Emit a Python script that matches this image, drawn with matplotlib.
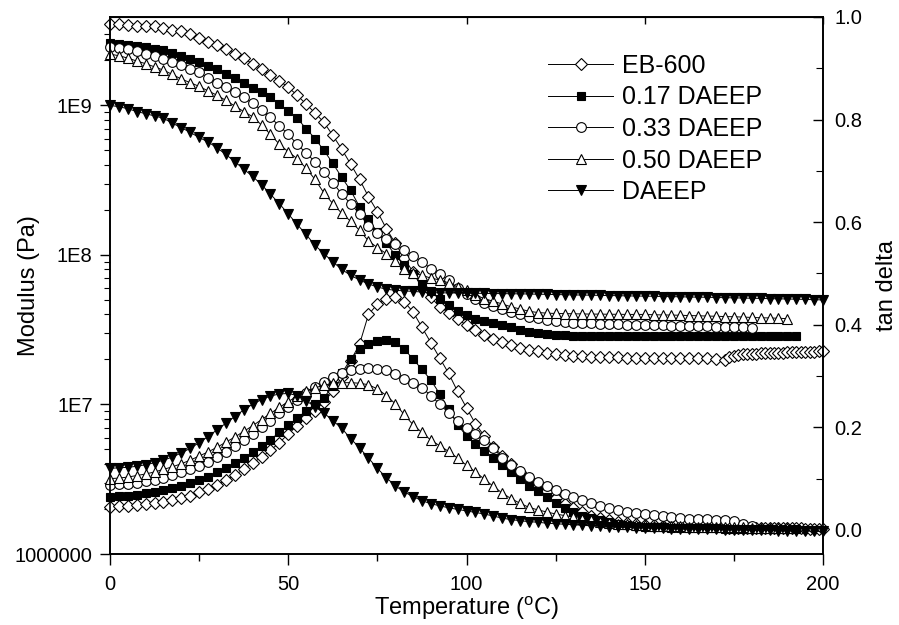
import numpy as np
import matplotlib.pyplot as plt
from matplotlib.ticker import MultipleLocator, FixedLocator, FixedFormatter, LogLocator, NullFormatter

plt.rcParams['font.family'] = 'Liberation Sans'
plt.rcParams['mathtext.fontset'] = 'custom'
plt.rcParams['mathtext.rm'] = 'Liberation Sans'

# temperature sweeps (degC)
t_eb600 = np.concatenate([np.arange(0, 170.1, 2.5), np.arange(172.5, 200.1, 1.25)])
t_017 = np.arange(0, 192.6, 2.5)
t_033 = np.arange(0, 180.1, 2.5)
t_050 = np.arange(0, 190.1, 2.5)
t_daeep = np.arange(0, 200.1, 2.5)

# storage modulus, MPa
mod_eb600 = [3500, 3480, 3450, 3420, 3400, 3370, 3300, 3200, 3120, 2980, 2830, 2650, 2530, 2380,
             2220, 2060, 1900, 1750, 1600, 1460, 1320, 1170, 1020, 890, 770, 630, 510, 405, 320,
             245, 195, 150, 120, 95, 77, 60, 52, 45, 41, 37, 34, 31.5, 29.3, 27.5, 26, 25, 24,
             23.3, 22.7, 22.2, 21.8, 21.4, 21.2, 21.0, 20.9, 20.8, 20.7, 20.7, 20.6, 20.6, 20.6,
             20.6, 20.5, 20.5, 20.5, 20.5, 20.5, 20.4, 20.2,
             19.7, 20.8, 21.2, 21.4, 21.6, 21.7, 21.8, 21.9, 22.0, 22.0, 22.1, 22.1, 22.2, 22.2,
             22.3, 22.3, 22.4, 22.4, 22.5, 22.5, 22.6, 22.7, 22.8]
mod_017 = [2600, 2580, 2550, 2500, 2450, 2400, 2330, 2250, 2140, 2040, 1950, 1840, 1740, 1630,
           1530, 1420, 1310, 1220, 1140, 1020, 920, 820, 700, 600, 500, 410, 330, 270, 210, 173,
           142, 120, 100, 85, 74, 65, 57, 51, 46, 42, 39.5, 37.5, 36.2, 35, 34, 32.8, 31.5, 30.7,
           30, 29.6, 29.3, 29, 28.8, 28.8, 28.8, 28.8, 28.8, 28.8, 28.7, 28.7, 28.7, 28.7, 28.7,
           28.6, 28.6, 28.6, 28.6, 28.6, 28.5, 28.5, 28.5, 28.5, 28.5, 28.5, 28.5, 28.5, 28.5, 28.5]
mod_033 = [2450, 2420, 2370, 2300, 2220, 2130, 2050, 1960, 1860, 1760, 1660, 1530, 1420, 1320,
           1230, 1130, 1030, 930, 830, 730, 640, 550, 480, 420, 360, 305, 255, 220, 188, 156,
           140, 127, 118, 108, 99, 90, 81, 74, 68, 60, 55, 51, 48, 45.5, 43.5, 41.5, 40, 38.5,
           37.6, 36.8, 36, 35.5, 35.2, 35, 34.8, 34.7, 34.6, 34.4, 34.2, 34.1, 34, 33.9, 33.8,
           33.7, 33.6, 33.5, 33.4, 33.3, 33.2, 33.1, 33, 32.8, 32.6]
mod_050 = [2200, 2150, 2070, 1980, 1900, 1810, 1720, 1610, 1500, 1420, 1340, 1250, 1170, 1080,
           990, 910, 840, 740, 640, 550, 490, 440, 380, 320, 260, 220, 190, 168, 146, 124, 112,
           102, 91, 81, 76, 73, 70, 68, 65, 61, 58, 54, 51, 49, 47, 45, 43.5, 42, 41.2, 40.8,
           40.6, 40.5, 40.4, 40.3, 40.2, 40.2, 40.1, 40.1, 40, 40, 40, 39.8, 39.7, 39.6, 39.5,
           39.3, 39.2, 39, 38.9, 38.7, 38.6, 38.4, 38.2, 38, 37.9, 37.7, 37.5]
mod_daeep = [1000, 980, 950, 910, 880, 850, 820, 760, 710, 660, 610, 570, 520, 470, 420, 375,
             335, 295, 255, 220, 188, 160, 137, 116, 102, 90, 80, 73, 68, 64, 61, 59, 58, 57.5,
             57, 56.5, 56, 55.8, 55.7, 55.6, 55.5, 55.4, 55.3, 55.2, 55.1, 55, 54.9, 54.8, 54.6,
             54.5, 54.3, 54.2, 54, 53.9, 53.8, 53.6, 53.5, 53.4, 53.2, 53.1, 53, 52.9, 52.7, 52.6,
             52.5, 52.3, 52.2, 52.1, 51.9, 51.8, 51.6, 51.5, 51.3, 51.2, 51, 50.9, 50.7, 50.6,
             50.4, 50.2, 50]

# tan delta
tan_eb600 = [.045, .046, .047, .048, .050, .052, .055, .058, .062, .067, .073, .080, .088, .097,
             .107, .118, .130, .142, .155, .170, .187, .203, .219, .232, .250, .270, .298, .330,
             .362, .420, .440, .450, .455, .445, .425, .395, .365, .335, .305, .270, .238, .207,
             .183, .162, .145, .128, .113, .099, .087, .075, .062, .050, .042, .035, .028, .023,
             .019, .016, .013, .011, .010, .009, .008, .007, .007, .006, .006, .005, .005,
             .004, .004, .004, .004, .004, .004, .003, .003, .003, .003, .003, .003, .003, .003,
             .003, .003, .003, .003, .002, .002, .002, .002, .002]
tan_017 = [.065, .066, .067, .069, .071, .074, .077, .081, .086, .091, .097, .104, .112, .120,
           .130, .140, .151, .163, .176, .190, .204, .218, .232, .245, .258, .280, .305, .333,
           .352, .363, .369, .371, .366, .353, .333, .313, .292, .265, .235, .205, .183, .167,
           .154, .140, .127, .112, .099, .086, .075, .064, .053, .042, .034, .028, .024, .020,
           .016, .012, .009, .007, .006, .005, .005, .004, .004, .004, .003, .003, .003, .002,
           .002, .002, .002, .001, .001, .001, .001, .001]
tan_033 = [.088, .089, .090, .092, .095, .098, .102, .107, .112, .118, .125, .133, .142, .152,
           .163, .175, .187, .200, .213, .227, .240, .254, .267, .278, .289, .298, .306, .311,
           .314, .315, .314, .311, .304, .295, .287, .277, .262, .245, .228, .212, .198, .186,
           .176, .160, .140, .127, .115, .104, .094, .085, .077, .070, .065, .059, .053, .047,
           .042, .038, .035, .033, .031, .029, .027, .025, .023, .022, .021, .021, .020, .020,
           .017, .012, .008]
tan_050 = [.100, .101, .103, .106, .109, .113, .118, .123, .129, .136, .144, .152, .161, .171,
           .181, .192, .203, .215, .227, .239, .250, .261, .270, .277, .282, .286, .287, .287,
           .286, .283, .275, .262, .246, .225, .205, .190, .175, .164, .153, .140, .126, .113,
           .099, .085, .072, .061, .052, .044, .039, .035, .031, .028, .025, .022, .019, .016,
           .014, .012, .011, .010, .009, .008, .008, .007, .007, .006, .006, .006, .005, .005,
           .005, .005, .004, .004, .004, .004, .004]
tan_daeep = [.120, .121, .122, .124, .127, .131, .136, .142, .150, .159, .170, .182, .195, .208,
             .221, .234, .245, .254, .261, .265, .266, .262, .252, .240, .228, .213, .198, .178,
             .160, .140, .120, .102, .086, .074, .065, .057, .051, .047, .043, .040, .037, .034,
             .031, .027, .023, .020, .018, .016, .015, .013, .012, .011, .010, .009, .008, .007,
             .006, .005, .005, .004, .004, .003, .003, .002, .002, .002, .001, .001, .001, .000,
             .000, .000, -.001, -.001, -.001, -.002, -.002, -.002, -.002, -.003, -.003]

labels = ['EB-600', '0.17 DAEEP', '0.33 DAEEP', '0.50 DAEEP', 'DAEEP']
temps = [t_eb600, t_017, t_033, t_050, t_daeep]
moduli = [mod_eb600, mod_017, mod_033, mod_050, mod_daeep]
tans = [tan_eb600, tan_017, tan_033, tan_050, tan_daeep]
styles = [dict(marker='D', ms=6.0, mfc='white'),
          dict(marker='s', ms=5.5, mfc='black'),
          dict(marker='o', ms=7.0, mfc='white'),
          dict(marker='^', ms=7.5, mfc='white'),
          dict(marker='v', ms=7.5, mfc='black')]

fig = plt.figure(figsize=(8.99, 6.25), dpi=100)
ax = fig.add_axes([110 / 899, 1 - 554 / 625, 713 / 899, 537 / 625])
ax2 = ax.twinx()

handles = []
for t, m, td, lab, st in zip(temps, moduli, tans, labels, styles):
    h, = ax.plot(t, np.array(m) * 1e6, color='black', lw=0.7, mec='black', mew=0.8,
                 clip_on=False, label=lab, **st)
    ax2.plot(t, td, color='black', lw=0.7, mec='black', mew=0.8, clip_on=False, **st)
    handles.append(h)

ax.set_xlim(0, 200)
ax.set_yscale('log')
ax.set_ylim(1e6, 3.9e9)
ax2.set_ylim(-0.047, 1.0)

ax.xaxis.set_major_locator(MultipleLocator(50))
ax.xaxis.set_minor_locator(MultipleLocator(25))
ax.yaxis.set_major_locator(FixedLocator([1e6, 1e7, 1e8, 1e9]))
ax.yaxis.set_major_formatter(FixedFormatter(['1000000', '1E7', '1E8', '1E9']))
ax.yaxis.set_minor_locator(LogLocator(base=10, subs=np.arange(2, 10)))
ax.yaxis.set_minor_formatter(NullFormatter())
ax2.yaxis.set_major_locator(MultipleLocator(0.2))
ax2.yaxis.set_minor_locator(MultipleLocator(0.1))
ax2.yaxis.set_major_formatter(plt.FuncFormatter(lambda v, p: '%.1f' % v))

ax.tick_params(axis='x', which='major', direction='out', length=8, width=1, labelsize=14.5, pad=7)
ax.tick_params(axis='x', which='minor', direction='out', length=5, width=1)
ax.tick_params(axis='y', which='major', direction='out', length=7.5, width=1, labelsize=14.5, pad=5)
ax.tick_params(axis='y', which='minor', direction='out', length=4.5, width=0.8)
ax2.tick_params(axis='y', which='major', direction='in', length=7, width=1, labelsize=14.5, pad=8)
ax2.tick_params(axis='y', which='minor', direction='in', length=5, width=0.8)

top = ax.secondary_xaxis('top')
top.set_xticks([0, 50, 100, 150, 200])
top.tick_params(direction='in', length=5, width=1, labeltop=False)

for a in (ax, ax2):
    for s in a.spines.values():
        s.set_linewidth(1.2)

ax.set_xlabel('Temperature ($\\mathregular{^{o}}$C)', fontsize=17, labelpad=1)
ax.set_ylabel('Modulus (Pa)', fontsize=17)
ax.yaxis.set_label_coords(-0.098, 0.5)
ax2.set_ylabel('tan delta', fontsize=17, labelpad=10)

fig.legend(handles=handles, loc='upper left', bbox_to_anchor=(548 / 899, 1 - 54 / 625),
           frameon=False, fontsize=18, handlelength=2.6, handletextpad=0.35,
           labelspacing=0.3, borderpad=0, borderaxespad=0)

plt.savefig('out.png', dpi=100)
